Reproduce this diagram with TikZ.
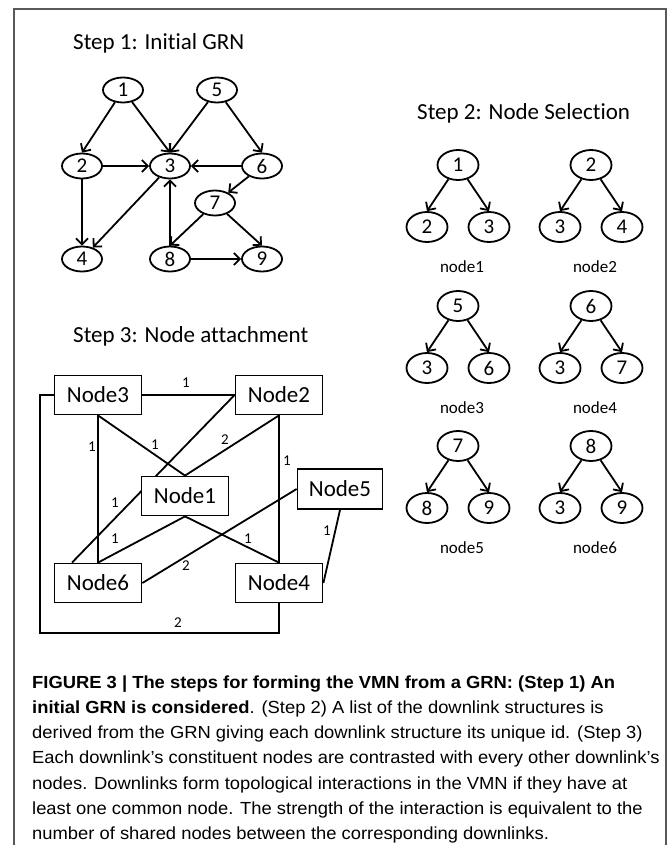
\documentclass[tikz,border=0pt]{standalone}
\usepackage{fontspec}
\setmainfont[Ligatures=NoCommon]{Carlito}
\newfontfamily\capfont[FakeStretch=1.05]{Liberation Sans}
\usetikzlibrary{arrows.meta,shapes.geometric,calc}
\begin{document}
\begin{tikzpicture}[x=1pt,y=-1pt,
 grn/.style={ellipse,draw,line width=1.8pt,minimum width=40pt,minimum height=25pt,inner sep=0pt,font=\fontsize{21}{21}\selectfont},
 sel/.style={grn,minimum height=30pt,minimum width=41pt},
 arr/.style={line width=1.8pt,-{Straight Barb[length=6pt,width=12pt]}},
 box/.style={draw,line width=1.8pt,fill=white,minimum width=87pt,minimum height=39pt,inner sep=0pt,font=\fontsize{23}{23}\selectfont},
 lnk/.style={line width=1.8pt},
 wt/.style={font=\fontsize{15}{15}\selectfont,inner sep=0pt},
 ttl/.style={font=\fontsize{23}{23}\selectfont,inner sep=0pt,anchor=base west},
 lbl/.style={font=\fontsize{17}{17}\selectfont,inner sep=0pt},
 captxt/.style={font=\capfont\fontsize{17.5}{17.5}\selectfont,anchor=base west,inner sep=0pt},
 framestyle/.style={draw=black!65,line width=2pt}
]
\useasboundingbox (0,0) rectangle (668,845);
\draw[framestyle] (14,845) -- (14,9) -- (666,9) -- (666,845);

% Step 1
\node[ttl] (t1) at (73,50) {Step 1: Initial GRN};
\node[grn] (a1) at (123,90) {1};
\node[grn] (a5) at (217,90) {5};
\node[grn] (a2) at (82,166) {2};
\node[grn] (a3) at (170,166) {3};
\node[grn] (a6) at (262,166) {6};
\node[grn] (a7) at (215,203) {7};
\node[grn] (a4) at (82,259) {4};
\node[grn] (a8) at (170,259) {8};
\node[grn] (a9) at (262,259) {9};
\draw[arr] (a1) -- (a2.north);
\draw[arr] (a1) -- (a3.north);
\draw[arr] (a5) -- (a3.north);
\draw[arr] (a5) -- (a6.north);
\draw[arr] (a2.east) -- (a3.west);
\draw[arr] (a6.west) -- (a3.east);
\draw[arr] (a6) -- (a7);
\draw[arr] (a2.south) -- (a4.north);
\draw[arr] (a3) -- (a4);
\draw[arr] (a8.north) -- (a3.south);
\draw[arr] (a7) -- (a8.north);
\draw[arr] (a7) -- (a9.north);
\draw[arr] (a8.east) -- (a9.west);

% Step 2
\node[ttl] (t2) at (417,120) {Step 2: Node Selection};
\foreach \x/\y/\r/\c/\d/\n [count=\i] in {458/165/1/2/3/node1, 591/165/2/3/4/node2, 458/306/5/3/6/node3, 591/306/6/3/7/node4, 458/446/7/8/9/node5, 591/446/8/3/9/node6}{
  \node[sel] (r\i) at (\x,\y) {\r};
  \node[sel] (l\i) at (\x-31,\y+62) {\c};
  \node[sel] (s\i) at (\x+31,\y+62) {\d};
  \node[lbl] (n\i) at (\x+4,\y+102) {\n};
  \draw[arr] (r\i) -- (l\i.north);
  \draw[arr] (r\i) -- (s\i.north);
}

% Step 3
\node[ttl] (t3) at (73,342) {Step 3: Node attachment};
\coordinate (lp) at (40,633);
\node[box] (N3) at (98,395) {Node3};
\node[box] (N2) at (279,395) {Node2};
\node[box,minimum width=85pt,minimum height=40pt] (N5) at (340,489) {Node5};
\node[box] (N6) at (98,583) {Node6};
\node[box] (N4) at (279,583) {Node4};
\draw[lnk] (N3) -- (N2);
\draw[lnk] (N3.south) -- (N6.north);
\draw[lnk] (N2.south) -- (N4.north);
\draw[lnk] (N2.west) -- ([xshift=-26pt]N6.north);
\draw[lnk] (N5.west) -- (N6.east);
\draw[lnk] (N5.south) -- (N4.east);
\draw[lnk] (N3.west) -| (lp) -| (N4.south);
\node[box] (N1) at (185,496) {Node1};
\draw[lnk] (N3.south) -- (N1.north);
\draw[lnk] (N2.south) -- (N1.north);
\draw[lnk] (N1.south) -- (N6.north);
\draw[lnk] (N1.south) -- (N4.north);
\node[wt] (w1) at (186,383) {1};
\node[wt] (w2) at (92,447) {1};
\node[wt] (w3) at (155,445) {1};
\node[wt] (w4) at (225,440) {2};
\node[wt] (w5) at (287,461) {1};
\node[wt] (w6) at (115,503) {1};
\node[wt] (w7) at (115,539) {1};
\node[wt] (w8) at (248,539) {1};
\node[wt] (w9) at (186,566) {2};
\node[wt] (w10) at (327,531) {1};
\node[wt] (w11) at (178,623) {2};

% Caption
\node[captxt] (c1) at (32,688) {\textbf{FIGURE 3 | The steps for forming the VMN from a GRN: (Step 1) An}};
\node[captxt] (c2) at (32,713) {\textbf{initial GRN is considered}. (Step 2) A list of the downlink structures is};
\node[captxt] (c3) at (32,738) {derived from the GRN giving each downlink structure its unique id. (Step 3)};
\node[captxt] (c4) at (32,763) {Each downlink’s constituent nodes are contrasted with every other downlink’s};
\node[captxt] (c5) at (32,789) {nodes. Downlinks form topological interactions in the VMN if they have at};
\node[captxt] (c6) at (32,814) {least one common node. The strength of the interaction is equivalent to the};
\node[captxt] (c7) at (32,839) {number of shared nodes between the corresponding downlinks.};
\end{tikzpicture}
\end{document}
